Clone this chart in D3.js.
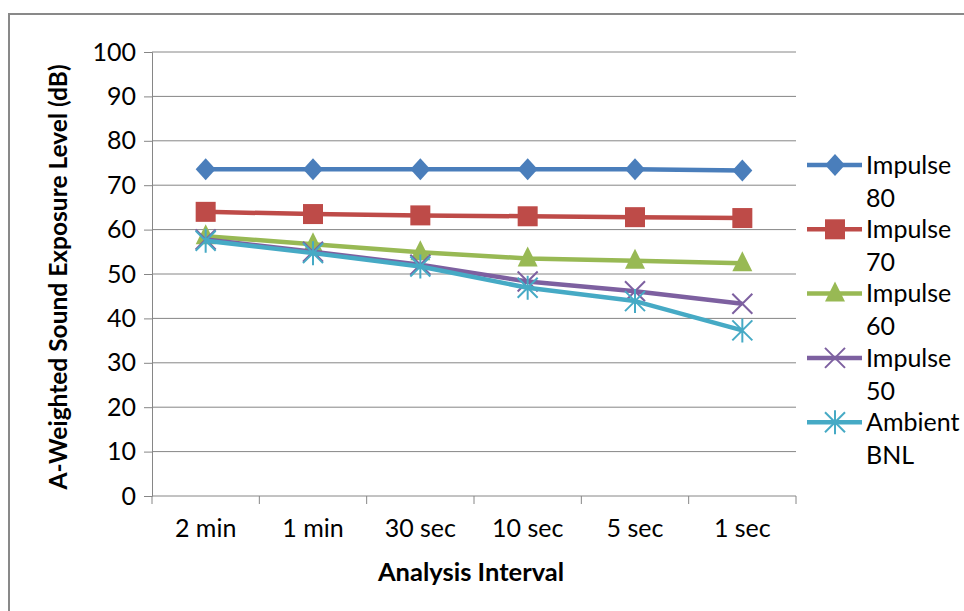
<!DOCTYPE html>
<html>
<head>
<meta charset="utf-8">
<script src="https://cdn.jsdelivr.net/npm/d3@7"></script>
<style>
	body { margin: 0; background: #fff; }
	svg { display: block; }
</style>
</head>
<body>
<div class="line-chart"></div>
<script>
var categories = ['2 min', '1 min', '30 sec', '10 sec', '5 sec', '1 sec'];
var seriesNames = ['Impulse 80', 'Impulse 70', 'Impulse 60', 'Impulse 50', 'Ambient BNL'];
var impulse80 = [73.6, 73.6, 73.6, 73.6, 73.6, 73.3];
var impulse70 = [64.0, 63.5, 63.2, 63.0, 62.8, 62.6];
var impulse60 = [58.5, 56.7, 54.9, 53.5, 53.0, 52.4];
var impulse50 = [57.8, 55.0, 52.1, 48.3, 46.1, 43.3];
var ambientBnl = [57.5, 54.7, 51.7, 46.9, 43.9, 37.3];
var yTicks = [0, 10, 20, 30, 40, 50, 60, 70, 80, 90, 100];

var colors = ['#4a7ebb', '#be4b48', '#98b954', '#7d60a0', '#46aac5'],
	markers = ['diamond', 'square', 'triangle', 'x', 'star'],
	gridColor = '#868686',
	textColor = '#000',
	labelFontSize = '25px',
	fontFamily = 'Lato, Calibri, Carlito, "Open Sans", sans-serif';

var allSeries = [impulse80, impulse70, impulse60, impulse50, ambientBnl];

var width = 964, height = 611;
var plot = {left: 152, top: 52, right: 796, bottom: 496};

var svg = d3.select('.line-chart').append('svg')
	.attr('width', width)
	.attr('height', height)
	.attr('font-family', fontFamily)
	.attr('fill', textColor);

// Outer chart border (runs off the right/bottom edge like the reference)
svg.append('rect')
	.attr('x', 9).attr('y', 14)
	.attr('width', width + 20).attr('height', height + 20)
	.attr('fill', '#fff')
	.attr('stroke', '#898989')
	.attr('stroke-width', 2);

var x = d3.scaleBand().domain(categories).range([plot.left, plot.right]);
var y = d3.scaleLinear().domain([0, 100]).range([plot.bottom, plot.top]);

// Gridlines
svg.append('g')
	.selectAll('line')
	.data(yTicks.filter(function(d) { return d > 0; }))
	.join('line')
	.attr('x1', plot.left).attr('x2', plot.right)
	.attr('y1', function(d) { return y(d); })
	.attr('y2', function(d) { return y(d); })
	.attr('stroke', gridColor)
	.attr('stroke-width', 1);

// Y axis
var yAxis = svg.append('g')
	.attr('transform', 'translate(' + plot.left + ',0)')
	.call(d3.axisLeft(y).tickValues(yTicks).tickSize(8).tickPadding(8));
yAxis.select('.domain').attr('stroke', gridColor);
yAxis.selectAll('.tick line').attr('stroke', gridColor);
yAxis.selectAll('.tick text')
	.attr('font-size', labelFontSize)
	.attr('font-family', fontFamily)
	.attr('fill', textColor);

// X axis
var xAxis = svg.append('g')
	.attr('transform', 'translate(0,' + plot.bottom + ')')
	.call(d3.axisBottom(x).tickSize(0).tickPadding(23));
xAxis.select('.domain').attr('stroke', gridColor).attr('d', 'M' + plot.left + ',0H' + plot.right);
xAxis.selectAll('.tick text')
	.attr('font-size', labelFontSize)
	.attr('font-family', fontFamily)
	.attr('fill', textColor);
var bandEdges = categories.map(function(c) { return x(c); }).concat([plot.right]);
xAxis.selectAll('.edge')
	.data(bandEdges)
	.join('line')
	.attr('class', 'edge')
	.attr('x1', function(d) { return d; })
	.attr('x2', function(d) { return d; })
	.attr('y1', 0).attr('y2', 8)
	.attr('stroke', gridColor);

// Axis titles
svg.append('text')
	.attr('transform', 'translate(67,' + ((plot.top + plot.bottom) / 2 + 3) + ') rotate(-90)')
	.attr('text-anchor', 'middle')
	.attr('font-size', '24.5px')
	.attr('font-weight', 'bold')
	.text('A-Weighted Sound Exposure Level (dB)');
svg.append('text')
	.attr('x', (plot.left + plot.right) / 2 - 3)
	.attr('y', 581)
	.attr('text-anchor', 'middle')
	.attr('font-size', '25.5px')
	.attr('font-weight', 'bold')
	.text('Analysis Interval');

function drawMarker(g, type, color) {
	if (type === 'diamond') {
		g.append('path').attr('d', 'M0,-11L10,0L0,11L-10,0Z').attr('fill', color);
	} else if (type === 'square') {
		g.append('rect').attr('x', -10).attr('y', -10).attr('width', 20).attr('height', 20).attr('fill', color);
	} else if (type === 'triangle') {
		g.append('path').attr('d', 'M0,-12L10,8L-10,8Z').attr('fill', color);
	} else if (type === 'x') {
		g.append('path').attr('d', 'M-10,-10L10,10M-10,10L10,-10').attr('stroke', color).attr('stroke-width', 2);
	} else if (type === 'star') {
		g.append('path').attr('d', 'M-10,-10L10,10M-10,10L10,-10M0,-12V12').attr('stroke', color).attr('stroke-width', 2);
	}
}

var line = d3.line()
	.x(function(d, i) { return x(categories[i]) + x.bandwidth() / 2; })
	.y(function(d) { return y(d); });

allSeries.forEach(function(values, s) {
	svg.append('path')
		.datum(values)
		.attr('fill', 'none')
		.attr('stroke', colors[s])
		.attr('stroke-width', 4.5)
		.attr('stroke-linejoin', 'round')
		.attr('d', line);
	values.forEach(function(v, i) {
		var g = svg.append('g')
			.attr('transform', 'translate(' + (x(categories[i]) + x.bandwidth() / 2) + ',' + y(v) + ')');
		drawMarker(g, markers[s], colors[s]);
	});
});

// Legend
var legend = svg.append('g');
seriesNames.forEach(function(name, s) {
	var cy = 165 + s * 64.3;
	legend.append('line')
		.attr('x1', 807).attr('x2', 862)
		.attr('y1', cy).attr('y2', cy)
		.attr('stroke', colors[s])
		.attr('stroke-width', 4.5);
	var g = legend.append('g').attr('transform', 'translate(835,' + cy + ')');
	drawMarker(g, markers[s], colors[s]);
	var parts = name.split(' ');
	parts.forEach(function(p, k) {
		legend.append('text')
			.attr('x', 866)
			.attr('y', cy + k * 33)
			.attr('dy', '0.35em')
			.attr('font-size', labelFontSize)
			.text(p);
	});
});
</script>
</body>
</html>
